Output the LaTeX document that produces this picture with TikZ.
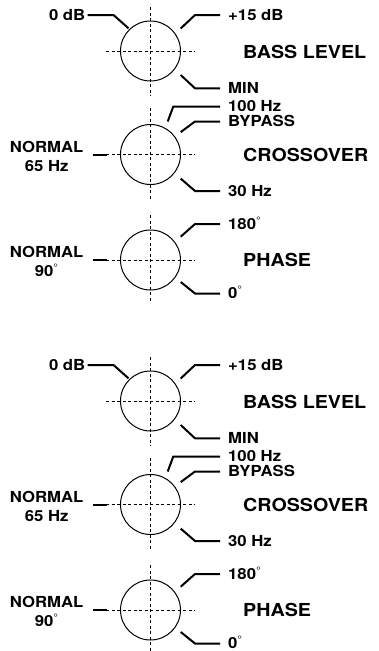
\documentclass[tikz,border=0pt]{standalone}
\usepackage{fontspec}
\setmainfont{TeX Gyre Heros}[FakeStretch=1.1]

\newcommand{\dg}{\textsuperscript{\mdseries °}}

\tikzset{
  lbl/.style={font=\bfseries\fontsize{15.2}{19}\selectfont, inner sep=0pt, text height=10.9pt, text depth=0pt},
  two/.style={font=\bfseries\fontsize{15.2}{19}\selectfont, inner sep=0pt, align=center},
  ttl/.style={font=\bfseries\fontsize{17.9}{20}\selectfont, inner sep=0pt, anchor=west},
  lead/.style={line width=2pt},
  axis/.style={line width=0.8pt, dash pattern=on 3pt off 2.5pt},
  knob/.style={circle, draw, line width=1pt, minimum size=60pt, inner sep=0pt},
}

\begin{document}
\begin{tikzpicture}[x=1pt,y=-1pt]
\useasboundingbox (0,0) rectangle (379,651);
\foreach \g/\dy in {a/0,b/350}{
\begin{scope}[shift={(0,\dy)}]
% BASS LEVEL
\node[knob] (bass\g) at (150.5,51) {};
\draw[axis] (bass\g.center) ++(0,-44) -- ++(0,89);
\draw[axis] (bass\g.center) ++(-44.5,0) -- ++(89,0);
\node[lbl, anchor=east] (zero\g) at (85.5,15) {0 dB};
\node[lbl, anchor=west] (max\g) at (228,15) {+15 dB};
\node[lbl, anchor=west] (min\g) at (228,88.3) {MIN};
\node[ttl] (basst\g) at (243,51.5) {BASS LEVEL};
\draw[lead] ([xshift=2pt]zero\g.east) -- ++(26,0) -- ++(15,13.3);
\draw[lead] ([xshift=-8pt]max\g.west) -- ++(-25,0) -- ++(-14.3,13.5);
\draw[lead] ([xshift=-8pt]min\g.west) -- ++(-25,0) -- ++(-14.3,-13.3);

% CROSSOVER
\node[knob] (cross\g) at (150.5,154.5) {};
\draw[axis] (cross\g.center) ++(0,-47) -- ++(0,92);
\draw[axis] (cross\g.center) ++(-44.5,0) -- ++(89,0);
\node[lbl, anchor=west] (hund\g) at (228,106.5) {100 Hz};
\node[lbl, anchor=west] (byp\g) at (228,121.5) {BYPASS};
\node[lbl, anchor=west] (thirty\g) at (228,191) {30 Hz};
\node[two] (normc\g) at (46.7,156) {NORMAL\\65 Hz};
\node[ttl] (crosst\g) at (243,155) {CROSSOVER};
\draw[lead] ([xshift=-8pt]hund\g.west) -- ++(-46.7,0) -- ++(-5.6,15);
\draw[lead] ([xshift=-8pt]byp\g.west) -- ++(-25,0) -- ++(-14.3,10.6);
\draw[lead] ([xshift=-8pt]thirty\g.west) -- ++(-25,0) -- ++(-14.3,-12.4);
\draw[lead] ([xshift=-13.5pt]cross\g.west) -- ++(-14,0);

% PHASE
\node[knob] (phase\g) at (150.5,260) {};
\draw[axis] (phase\g.center) ++(0,-45) -- ++(0,88);
\draw[axis] (phase\g.center) ++(-44.5,0) -- ++(89,0);
\node[lbl, anchor=west] (deg\g) at (228,224) {180\dg};
\node[lbl, anchor=west] (nil\g) at (228,293.5) {0\dg};
\node[two] (normp\g) at (46.7,261.5) {NORMAL\\90\dg};
\node[ttl] (phaset\g) at (243,260) {PHASE};
\draw[lead] ([xshift=-8pt]deg\g.west) -- ++(-25,0) -- ++(-14.3,12.7);
\draw[lead] ([xshift=-8pt]nil\g.west) -- ++(-25,0) -- ++(-14.3,-11.5);
\draw[lead] ([xshift=-13.5pt]phase\g.west) -- ++(-14,0);
\end{scope}
}
\end{tikzpicture}
\end{document}
